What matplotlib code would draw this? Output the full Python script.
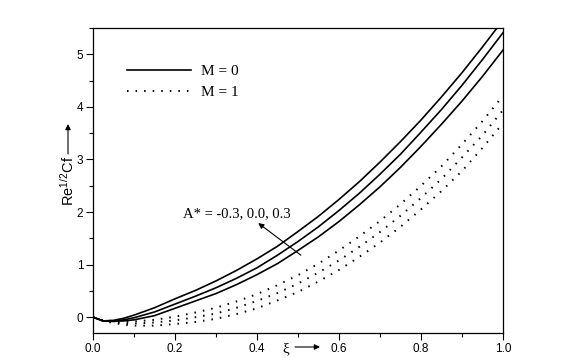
import matplotlib
matplotlib.use("Agg")
import matplotlib.pyplot as plt
from matplotlib.ticker import MultipleLocator

xi = [0.0, 0.025, 0.05, 0.075, 0.1, 0.15, 0.2, 0.25, 0.3, 0.35, 0.4, 0.45, 0.5,
      0.55, 0.6, 0.65, 0.7, 0.75, 0.8, 0.85, 0.9, 0.95, 1.0]

# M = 0, A* = 0.3, 0.0, -0.3 (solid)
cf_m0_a = [0.0, -0.07, -0.06, -0.02, 0.04, 0.18, 0.35, 0.51, 0.69, 0.89, 1.11, 1.35, 1.63,
           1.92, 2.24, 2.58, 2.95, 3.34, 3.75, 4.19, 4.65, 5.14, 5.65]
cf_m0_b = [0.0, -0.07, -0.07, -0.05, -0.01, 0.10, 0.25, 0.40, 0.56, 0.74, 0.94, 1.18, 1.44,
           1.72, 2.03, 2.36, 2.72, 3.10, 3.52, 3.95, 4.41, 4.90, 5.41]
cf_m0_c = [0.0, -0.07, -0.08, -0.07, -0.05, 0.03, 0.17, 0.31, 0.45, 0.62, 0.81, 1.02, 1.27,
           1.53, 1.82, 2.14, 2.48, 2.85, 3.25, 3.67, 4.11, 4.58, 5.08]

# M = 1 (dotted)
cf_m1_a = [0.0, -0.06, -0.07, -0.08, -0.08, -0.05, 0.01, 0.09, 0.18, 0.30, 0.44, 0.61, 0.80,
           1.02, 1.27, 1.54, 1.83, 2.15, 2.50, 2.87, 3.29, 3.73, 4.21]
cf_m1_b = [0.0, -0.06, -0.09, -0.11, -0.12, -0.10, -0.06, 0.0, 0.07, 0.18, 0.31, 0.46, 0.64,
           0.85, 1.08, 1.34, 1.62, 1.93, 2.27, 2.63, 3.04, 3.46, 3.94]
cf_m1_c = [0.0, -0.07, -0.11, -0.14, -0.16, -0.16, -0.13, -0.09, -0.03, 0.06, 0.17, 0.32, 0.48,
           0.68, 0.90, 1.15, 1.42, 1.72, 2.05, 2.40, 2.78, 3.22, 3.69]

plt.rcParams['font.family'] = ['Liberation Sans', 'DejaVu Sans']
plt.rcParams['mathtext.fontset'] = 'custom'
plt.rcParams['mathtext.rm'] = 'Liberation Sans'
plt.rcParams['mathtext.it'] = 'Liberation Sans'

fig = plt.figure(figsize=(5.76, 3.62), dpi=100)
ax = fig.add_axes([93 / 576, 1 - 333 / 362, 410 / 576, 305 / 362])

solid_kw = dict(color='black', lw=1.2)
dot_kw = dict(color='black', lw=1.4, dashes=(0.8, 3.6))

ax.plot(xi, cf_m0_a, label='M = 0', **solid_kw)
ax.plot(xi, cf_m0_b, **solid_kw)
ax.plot(xi, cf_m0_c, **solid_kw)
ax.plot(xi, cf_m1_a, label='M = 1', **dot_kw)
ax.plot(xi, cf_m1_b, **dot_kw)
ax.plot(xi, cf_m1_c, **dot_kw)

ax.set_xlim(0, 1.0)
ax.set_ylim(-0.3, 5.5)
ax.xaxis.set_major_locator(MultipleLocator(0.2))
ax.xaxis.set_minor_locator(MultipleLocator(0.1))
ax.yaxis.set_major_locator(MultipleLocator(1))
ax.yaxis.set_minor_locator(MultipleLocator(0.5))
ax.xaxis.set_major_formatter(plt.FuncFormatter(lambda v, p: "%.1f" % v))
ax.tick_params(which='major', direction='out', length=5, width=0.8, labelsize=8.5, pad=2)
ax.tick_params(which='minor', direction='out', length=3, width=0.8)
ax.tick_params(top=False, right=False, which='both')
for sp in ax.spines.values():
    sp.set_linewidth(0.9)

leg = ax.legend(loc='upper left', bbox_to_anchor=(0.05, 0.925), frameon=False,
                handlelength=4.2, handletextpad=0.6, labelspacing=0.45,
                prop={'family': 'Liberation Serif', 'size': 11})

ax.text(0.219, 1.97, 'A* = -0.3, 0.0, 0.3', family='Liberation Serif', fontsize=10.5,
        va='center', ha='left')
ax.annotate('', xy=(0.403, 1.79), xytext=(0.507, 1.18),
            arrowprops=dict(arrowstyle='-|>', color='black', lw=0.8, mutation_scale=8,
                            shrinkA=0, shrinkB=0))

# axis labels with arrows
fig.text(68 / 576, 1 - 181 / 362, 'Re$^{1/2}$Cf', rotation=90, fontsize=10.5,
         ha='center', va='center')
ax.annotate('', xy=(68 / 576, 1 - 124 / 362), xytext=(68 / 576, 1 - 154 / 362),
            xycoords='figure fraction', textcoords='figure fraction',
            arrowprops=dict(arrowstyle='-|>', color='black', lw=0.8, mutation_scale=8,
                            shrinkA=0, shrinkB=0), annotation_clip=False)
fig.text(286 / 576, 1 - 349 / 362, 'ξ', family='Liberation Serif', fontsize=11,
         ha='center', va='center')
ax.annotate('', xy=(320 / 576, 1 - 347 / 362), xytext=(295 / 576, 1 - 347 / 362),
            xycoords='figure fraction', textcoords='figure fraction',
            arrowprops=dict(arrowstyle='-|>', color='black', lw=0.8, mutation_scale=8,
                            shrinkA=0, shrinkB=0), annotation_clip=False)

fig.savefig('out.png', dpi=100)
